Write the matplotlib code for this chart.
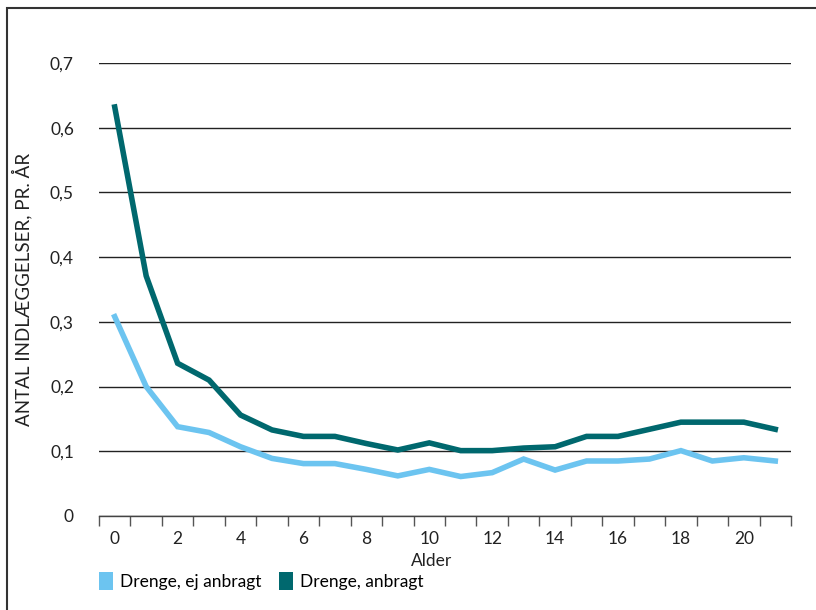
# -*- coding: utf-8 -*-
# Indlaeggelser pr. aar for drenge, anbragt vs. ej anbragt
import numpy as np
import matplotlib
matplotlib.use("Agg")
import matplotlib.pyplot as plt
from matplotlib.patches import Patch, Rectangle

plt.rcParams['font.family'] = ['Lato', 'DejaVu Sans']

# data
alder = list(range(0, 22))
ej_anbragt = [0.308, 0.200, 0.138, 0.129, 0.107, 0.089, 0.081, 0.081, 0.072, 0.062, 0.072,
              0.061, 0.067, 0.088, 0.071, 0.085, 0.085, 0.088, 0.101, 0.085, 0.090, 0.085]
anbragt = [0.632, 0.371, 0.236, 0.210, 0.156, 0.133, 0.123, 0.123, 0.112, 0.102, 0.113,
           0.101, 0.101, 0.105, 0.107, 0.123, 0.123, 0.134, 0.145, 0.145, 0.145, 0.134]
y_ticks = [0, 0.1, 0.2, 0.3, 0.4, 0.5, 0.6, 0.7]
y_ticklabels = ["0", "0,1", "0,2", "0,3", "0,4", "0,5", "0,6", "0,7"]
x_ticklabels = [str(a) for a in range(0, 21, 2)]

lys = '#6CC4F0'
mork = '#00686E'

fig = plt.figure(figsize=(8.16, 6.1), dpi=100)
ax = fig.add_axes([99/816, 1-516/610, 692/816, 453/610])

ax.plot(alder, ej_anbragt, color=lys, lw=4, solid_joinstyle='miter', clip_on=False, zorder=3)
ax.plot(alder, anbragt, color=mork, lw=4, solid_joinstyle='miter', clip_on=False, zorder=4)

ax.set_xlim(-0.5, 21.5)
ax.set_ylim(0, 0.7)

# y axis
ax.set_yticks(y_ticks)
ax.set_yticklabels(y_ticklabels, fontsize=12.5, color='#222222')
ax.tick_params(axis='y', length=0, pad=18)
ax.yaxis.grid(True, color='#222222', lw=1)
ax.set_axisbelow(True)
ax.set_ylabel("ANTAL INDLÆGGELSER, PR. ÅR", fontsize=13.5, color='#222222')
ax.yaxis.set_label_coords(-(99-32)/692, 0.5)

# x axis: ticks between categories, labels on every second age
ax.set_xticks(np.arange(-0.5, 22, 1))
ax.set_xticklabels([])
ax.set_xticks(range(0, 21, 2), minor=True)
ax.set_xticklabels(x_ticklabels, minor=True, fontsize=12.5, color='#222222')
ax.tick_params(axis='x', which='major', direction='out', length=7, width=1, color='#555555')
ax.tick_params(axis='x', which='minor', length=0, pad=11)
ax.set_xlabel("Alder", fontsize=12.5, color='#222222')
ax.xaxis.set_label_coords((432-99)/692, -(561-516)/453)
ax.xaxis.label.set_va('center')

for s in ['top', 'right', 'left']:
    ax.spines[s].set_visible(False)
ax.spines['bottom'].set_color('#444444')
ax.spines['bottom'].set_linewidth(1)

# legend
handles = [Patch(facecolor=lys, edgecolor='none', label="Drenge, ej anbragt"),
           Patch(facecolor=mork, edgecolor='none', label="Drenge, anbragt")]
fig.legend(handles=handles, loc='lower left', bbox_to_anchor=(87/816, 8/610), ncol=2,
           frameon=False, fontsize=12.5, handlelength=0.8, handleheight=1.2,
           handletextpad=0.4, columnspacing=1.0, borderpad=0.2)

# frame around the figure
fig.patches.append(Rectangle((7/816, -0.1), 2, 1.1 - 8/610, transform=fig.transFigure,
                             fill=False, edgecolor='#333333', lw=1.5))

fig.savefig("out.png", dpi=100)
